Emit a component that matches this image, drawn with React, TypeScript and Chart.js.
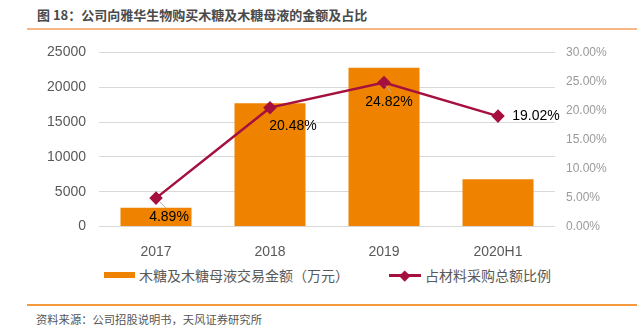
import React, { useEffect, useRef } from "react";
import { Chart, registerables } from "chart.js";

Chart.register(...registerables);

const categories = ["2017", "2018", "2019", "2020H1"];
const amounts = [2700, 17700, 22800, 6800];
const ratios = [4.89, 20.48, 24.82, 19.02];
const leftTicks = [0, 5000, 10000, 15000, 20000, 25000];
const rightTicks = [0, 5, 10, 15, 20, 25, 30];

const TITLE = "图 18：公司向雅华生物购买木糖及木糖母液的金额及占比";
const SOURCE = "资料来源：公司招股说明书，天风证券研究所";
const LEGEND_BAR = "木糖及木糖母液交易金额（万元）";
const LEGEND_LINE = "占材料采购总额比例";

const BAR_COLOR = "#EF8300";
const LINE_COLOR = "#A5103F";
const LATIN = "'Liberation Sans', Arial, 'Noto Sans CJK SC', sans-serif";
const CJK = "'Noto Sans CJK SC', 'Liberation Sans', sans-serif";

const labelPlugin = {
  id: "ratioLabels",
  afterDatasetsDraw(chart: any) {
    const opts = chart.options.plugins.ratioLabels;
    const meta = chart.getDatasetMeta(0);
    const ctx = chart.ctx;
    ctx.save();
    meta.data.forEach((el: any, i: number) => {
      const [dx, dy] = opts.offsets[i];
      const lead = opts.leaders[i];
      if (lead) {
        ctx.strokeStyle = "#b0b0b0";
        ctx.lineWidth = 1;
        ctx.beginPath();
        ctx.moveTo(el.x + lead[0], el.y + lead[1]);
        ctx.lineTo(el.x + lead[2], el.y + lead[3]);
        ctx.stroke();
      }
      ctx.font = "14px " + LATIN;
      ctx.fillStyle = "#000";
      ctx.textAlign = "center";
      ctx.textBaseline = "middle";
      ctx.fillText(ratios[i].toFixed(2) + "%", el.x + dx, el.y + dy);
    });
    ctx.restore();
  },
};

function ChartCanvas() {
  const ref = useRef<HTMLCanvasElement | null>(null);
  useEffect(() => {
    if (!ref.current) return;
    const chart = new Chart(ref.current, {
      type: "bar",
      data: {
        labels: categories,
        datasets: [
          {
            type: "line",
            label: LEGEND_LINE,
            data: ratios,
            yAxisID: "y1",
            borderColor: LINE_COLOR,
            backgroundColor: LINE_COLOR,
            borderWidth: 2.5,
            pointStyle: "rectRot",
            pointRadius: 5,
            pointBackgroundColor: LINE_COLOR,
            pointBorderColor: LINE_COLOR,
            tension: 0,
            order: 0,
          } as any,
          {
            type: "bar",
            label: LEGEND_BAR,
            data: amounts,
            yAxisID: "y",
            backgroundColor: BAR_COLOR,
            categoryPercentage: 1,
            barPercentage: 0.623,
            order: 1,
          },
        ],
      },
      options: {
        responsive: false,
        maintainAspectRatio: false,
        animation: false,
        layout: { padding: { top: 2, left: 0, right: 0, bottom: 0 } },
        plugins: {
          legend: { display: false },
          tooltip: { enabled: false },
          ratioLabels: {
            offsets: [
              [13, 19],
              [23, 18],
              [5, 20],
              [38, 0],
            ],
            leaders: [[3, 3, 10, 10], null, [2, 3, 7, 10], null],
          },
        } as any,
        scales: {
          x: {
            grid: { display: false },
            border: { display: false },
            ticks: {
              color: "#595959",
              font: { size: 14, family: LATIN },
              padding: 9,
              maxRotation: 0,
            },
            afterFit(scale: any) {
              scale.height = 38.5;
            },
          },
          y: {
            position: "left",
            min: 0,
            max: 25000,
            afterBuildTicks(scale: any) {
              scale.ticks = leftTicks.map((v) => ({ value: v }));
            },
            grid: { color: "#d9d9d9", lineWidth: 1, drawTicks: false },
            border: { display: false },
            ticks: {
              color: "#595959",
              font: { size: 14, family: LATIN },
              padding: 13,
              callback: (v: any) => String(v),
            },
            afterFit(scale: any) {
              scale.width = 99;
            },
          },
          y1: {
            position: "right",
            min: 0,
            max: 30,
            afterBuildTicks(scale: any) {
              scale.ticks = rightTicks.map((v) => ({ value: v }));
            },
            grid: { drawOnChartArea: false, drawTicks: false },
            border: { display: false },
            ticks: {
              color: "#9a9a9a",
              font: { size: 12, family: LATIN },
              padding: 11,
              callback: (v: any) => Number(v).toFixed(2) + "%",
            },
            afterFit(scale: any) {
              scale.width = 86;
            },
          },
        },
      },
      plugins: [labelPlugin],
    });
    return () => chart.destroy();
  }, []);
  return (
    <canvas
      ref={ref}
      width={641}
      height={234}
      style={{ position: "absolute", left: 0, top: 31, width: 641, height: 234 }}
    />
  );
}

export default function App() {
  return (
    <div
      style={{
        position: "absolute",
        left: 0,
        top: 0,
        width: 641,
        height: 332,
        background: "#fff",
        overflow: "hidden",
      }}
    >
      <div
        style={{
          position: "absolute",
          left: 37,
          top: 5,
          fontFamily: CJK,
          fontWeight: 700,
          fontSize: 13,
          lineHeight: "20px",
          color: "#4a4a4a",
          whiteSpace: "nowrap",
        }}
      >
        {TITLE}
      </div>
      <div style={{ position: "absolute", left: 27, top: 28, width: 610, height: 2, background: "#F6B685" }} />
      <ChartCanvas />
      <div style={{ position: "absolute", left: 104, top: 272, width: 31, height: 6, background: BAR_COLOR }} />
      <div
        style={{
          position: "absolute",
          left: 139,
          top: 265,
          fontFamily: CJK,
          fontSize: 14,
          lineHeight: "20px",
          color: "#595959",
          whiteSpace: "nowrap",
        }}
      >
        {LEGEND_BAR}
      </div>
      <div style={{ position: "absolute", left: 389, top: 274, width: 32, height: 2.5, background: LINE_COLOR }} />
      <div
        style={{
          position: "absolute",
          left: 401,
          top: 271.5,
          width: 7.5,
          height: 7.5,
          background: LINE_COLOR,
          transform: "rotate(45deg)",
        }}
      />
      <div
        style={{
          position: "absolute",
          left: 425,
          top: 265,
          fontFamily: CJK,
          fontSize: 14,
          lineHeight: "20px",
          color: "#595959",
          whiteSpace: "nowrap",
        }}
      >
        {LEGEND_LINE}
      </div>
      <div style={{ position: "absolute", left: 27, top: 304, width: 610, height: 2, background: "#F39A3C" }} />
      <div
        style={{
          position: "absolute",
          left: 36,
          top: 311,
          fontFamily: CJK,
          fontSize: 11.3,
          lineHeight: "16px",
          color: "#555",
          whiteSpace: "nowrap",
        }}
      >
        {SOURCE}
      </div>
    </div>
  );
}
